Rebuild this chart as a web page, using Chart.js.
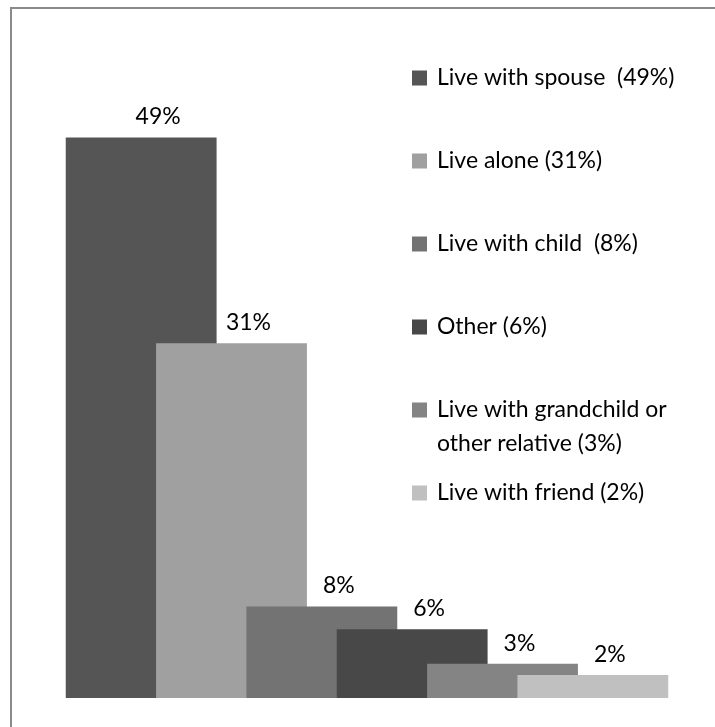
<!DOCTYPE html>
<html>
<head>
<meta charset="utf-8">
<script src="https://cdn.jsdelivr.net/npm/chart.js@4/dist/chart.umd.min.js"></script>
<style>
  html, body { margin: 0; padding: 0; background: #ffffff; }
  #wrap { position: relative; width: 715px; height: 727px; }
</style>
</head>
<body>
<div id="wrap"><canvas id="chart"></canvas></div>
<script>
// Living arrangements, share of respondents (%)
const categories = [
  'Live with spouse  (49%)',
  'Live alone (31%)',
  'Live with child  (8%)',
  'Other (6%)',
  ['Live with grandchild or', 'other relative (3%)'],
  'Live with friend (2%)'
];
const shares = [49, 31, 8, 6, 3, 2];
const barColors = ['#555555', '#a0a0a0', '#737373', '#484848', '#848484', '#c0c0c0'];

const FONT = 'Lato, "Open Sans", sans-serif';

// Grey frame along the top and left edges
const framePlugin = {
  id: 'frame',
  beforeDraw(chart) {
    const ctx = chart.ctx;
    ctx.save();
    ctx.fillStyle = '#ffffff';
    ctx.fillRect(0, 0, chart.width, chart.height);
    ctx.fillStyle = '#8a8a8a';
    ctx.fillRect(10, 7, 2, chart.height);
    ctx.fillRect(10, 7, chart.width, 2);
    ctx.restore();
  }
};

// Percentage labels above each bar
const valueLabels = {
  id: 'valueLabels',
  afterDatasetsDraw(chart) {
    const ctx = chart.ctx;
    const meta = chart.getDatasetMeta(0);
    const data = chart.data.datasets[0].data;
    ctx.save();
    ctx.font = '23px ' + FONT;
    ctx.fillStyle = '#000000';
    ctx.textAlign = 'center';
    ctx.textBaseline = 'alphabetic';
    meta.data.forEach((bar, i) => {
      ctx.fillText(data[i] + '%', bar.x + 17, bar.y - 13);
    });
    ctx.restore();
  }
};

// Legend floating over the right part of the plot
const floatingLegend = {
  id: 'floatingLegend',
  afterDraw(chart) {
    const ctx = chart.ctx;
    const labels = chart.data.labels;
    const colors = chart.data.datasets[0].backgroundColor;
    const boxX = 412, textX = 437, firstY = 78, step = 83, lineGap = 34, box = 15;
    ctx.save();
    ctx.font = '23px ' + FONT;
    ctx.textAlign = 'left';
    ctx.textBaseline = 'middle';
    labels.forEach((label, i) => {
      const y = firstY + step * i;
      ctx.fillStyle = colors[i];
      ctx.fillRect(boxX, y - box / 2, box, box);
      ctx.fillStyle = '#000000';
      const lines = Array.isArray(label) ? label : [label];
      lines.forEach((line, j) => ctx.fillText(line, textX, y + j * lineGap));
    });
    ctx.restore();
  }
};

new Chart(document.getElementById('chart'), {
  type: 'bar',
  data: {
    labels: categories,
    datasets: [{
      data: shares,
      backgroundColor: barColors,
      borderWidth: 0,
      categoryPercentage: 1,
      barPercentage: 1.67,
      clip: false
    }]
  },
  options: {
    responsive: true,
    maintainAspectRatio: false,
    animation: false,
    layout: { padding: { left: 96, right: 77, top: 11.6, bottom: 29 } },
    scales: {
      x: { display: false },
      y: { display: false, min: 0, max: 60 }
    },
    plugins: {
      legend: { display: false },
      tooltip: { enabled: false }
    }
  },
  plugins: [framePlugin, valueLabels, floatingLegend]
});
</script>
</body>
</html>
